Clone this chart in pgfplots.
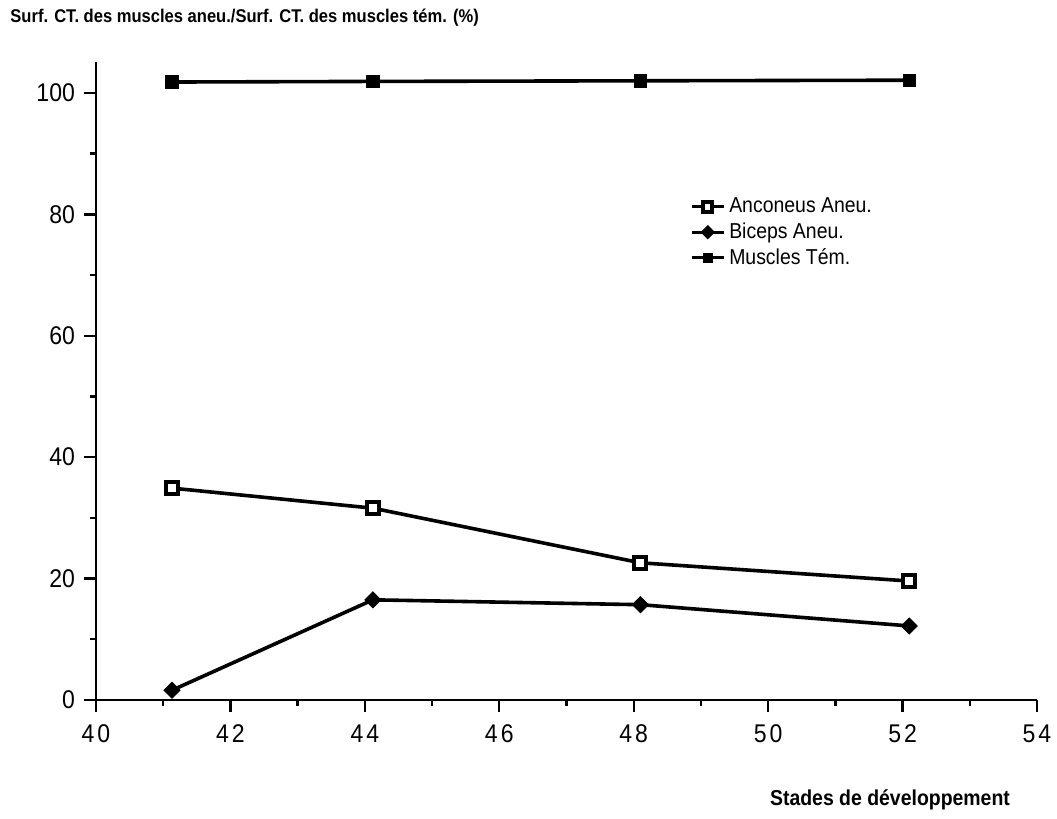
\documentclass[border=0pt]{standalone}
\usepackage{pgfplots}
\pgfplotsset{compat=1.18}
\usepackage{fontspec}
\setmainfont[FakeStretch=0.9]{Liberation Sans}
\begin{document}
\begin{tikzpicture}
\path[use as bounding box] (0pt,0pt) rectangle (528.5pt,409.5pt);
\begin{axis}[
  at={(48pt,59.5pt)}, anchor=south west,
  scale only axis, width=470.5pt, height=319pt,
  xmin=40, xmax=54, ymin=0, ymax=105.1,
  axis x line=bottom, axis y line=left,
  axis line style={line width=1.3pt, -},
  xtick={40,42,44,46,48,50,52,54},
  xticklabels={4\hspace{1.5pt}0,4\hspace{1.5pt}2,4\hspace{1.5pt}4,4\hspace{1.5pt}6,4\hspace{1.5pt}8,5\hspace{1.5pt}0,5\hspace{1.5pt}2,5\hspace{1.5pt}4},
  minor xtick={41,43,45,47,49,51,53},
  ytick={0,20,40,60,80,100},
  minor ytick={10,30,50,70,90},
  tick align=outside, major tick length=6pt, minor tick length=3pt,
  every tick/.style={line width=1.2pt, black},
  /pgf/number format/assume math mode=true,
  tick label style={font=\fontsize{12.8}{14}\selectfont},
  xticklabel style={yshift=-3pt},
  yticklabel style={xshift=-1pt},
  legend cell align=left,
  legend style={at={(0.627,0.80)}, anchor=north west, draw=none, fill=none,
    font=\fontsize{10.8}{12}\selectfont, row sep=-0.5pt, inner xsep=2pt},
  legend image code/.code={\draw[mark repeat=2,mark phase=2,#1, line width=1.5pt, mark size=2.3pt] plot coordinates {(0cm,0cm) (0.28cm,0cm) (0.56cm,0cm)};},
]
\addplot[black, line width=1.8pt, mark=square*, mark size=3pt, mark options={fill=white, line width=2pt}]
  coordinates {(41.13,34.9) (44.12,31.6) (48.1,22.6) (52.1,19.6)};
\addlegendentry{Anconeus Aneu.}
\addplot[black, line width=1.8pt, mark=square*, mark size=2.8pt, mark options={fill=black, rotate=45, line width=0.5pt}]
  coordinates {(41.13,1.6) (44.12,16.5) (48.1,15.7) (52.1,12.2)};
\addlegendentry{Biceps Aneu.}
\addplot[black, line width=1.8pt, mark=square*, mark size=3.1pt, mark options={fill=black, line width=0.5pt}]
  coordinates {(41.13,101.8) (44.12,101.9) (48.1,102.0) (52.1,102.1)};
\addlegendentry{Muscles Tém.}
\end{axis}
\node[anchor=west, font=\bfseries\fontsize{9.2}{11}\selectfont, inner sep=0pt] at (5pt,400.5pt) {Surf. CT. des muscles aneu./Surf. CT. des muscles tém. (\%)};
\node[font=\bfseries\fontsize{10.8}{13}\selectfont, inner sep=0pt] at (445pt,9.5pt) {Stades de développement};
\end{tikzpicture}
\end{document}
